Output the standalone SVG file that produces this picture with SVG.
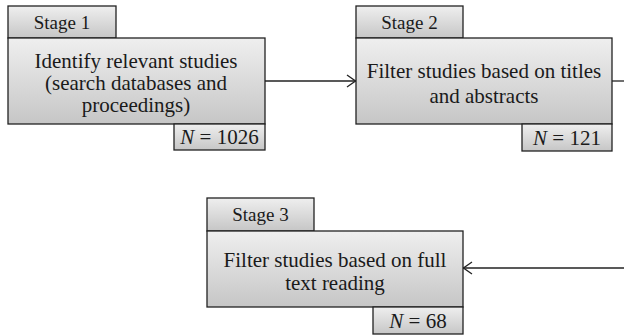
<svg xmlns="http://www.w3.org/2000/svg" width="624" height="335" viewBox="0 0 624 335">
  <defs>
    <linearGradient id="fillGrad" x1="0" y1="0" x2="0" y2="1">
      <stop offset="0" stop-color="#efefef"/>
      <stop offset="1" stop-color="#c6c6c6"/>
    </linearGradient>
    <marker id="openArrow" viewBox="0 0 10 14" refX="10" refY="7" markerWidth="10" markerHeight="14" markerUnits="userSpaceOnUse" orient="auto">
      <path d="M1,1 L9.5,7 L1,13" fill="none" stroke="#222" stroke-width="1.3"/>
    </marker>
  </defs>
  <style>
    .box { fill: url(#fillGrad); stroke: #222; stroke-width: 1.3; }
    text { font-family: 'Liberation Serif', 'DejaVu Serif', serif; fill: #1a1a1a; text-anchor: middle; }
    .label { font-size: 21px; }
    .tab { font-size: 19px; }
    .count { font-size: 21px; }
    .link { fill: none; stroke: #222; stroke-width: 1.3; }
  </style>

  <!-- Stage 1 -->
  <g id="stage1">
    <rect class="box" x="8" y="6" width="108" height="32"/>
    <text class="tab" x="62" y="29">Stage 1</text>
    <rect class="box" x="8" y="38" width="257" height="86"/>
    <text class="label" x="136" y="68">Identify relevant studies</text>
    <text class="label" x="136" y="90">(search databases and</text>
    <text class="label" x="136" y="112">proceedings)</text>
    <rect class="box" x="174" y="124" width="91" height="26"/>
    <text class="count" x="219.5" y="144"><tspan font-style="italic">N</tspan> = 1026</text>
  </g>

  <!-- Stage 2 -->
  <g id="stage2">
    <rect class="box" x="356" y="6" width="107" height="32"/>
    <text class="tab" x="409.5" y="29">Stage 2</text>
    <rect class="box" x="356" y="38" width="256" height="86"/>
    <text class="label" x="484" y="78">Filter studies based on titles</text>
    <text class="label" x="484" y="103">and abstracts</text>
    <rect class="box" x="522" y="124" width="90" height="27"/>
    <text class="count" x="567" y="145"><tspan font-style="italic">N</tspan> = 121</text>
  </g>

  <!-- Stage 3 -->
  <g id="stage3">
    <rect class="box" x="207" y="198" width="107" height="33"/>
    <text class="tab" x="260.5" y="221">Stage 3</text>
    <rect class="box" x="207" y="231" width="256" height="76"/>
    <text class="label" x="335" y="267">Filter studies based on full</text>
    <text class="label" x="335" y="290">text reading</text>
    <rect class="box" x="373" y="307" width="90" height="27"/>
    <text class="count" x="418" y="328"><tspan font-style="italic">N</tspan> = 68</text>
  </g>

  <!-- Connectors -->
  <g id="connectors">
    <line class="link" x1="265" y1="81" x2="356" y2="81" marker-end="url(#openArrow)"/>
    <line class="link" x1="612" y1="81" x2="624" y2="81"/>
    <line class="link" x1="624" y1="268" x2="463" y2="268" marker-end="url(#openArrow)"/>
  </g>
</svg>
